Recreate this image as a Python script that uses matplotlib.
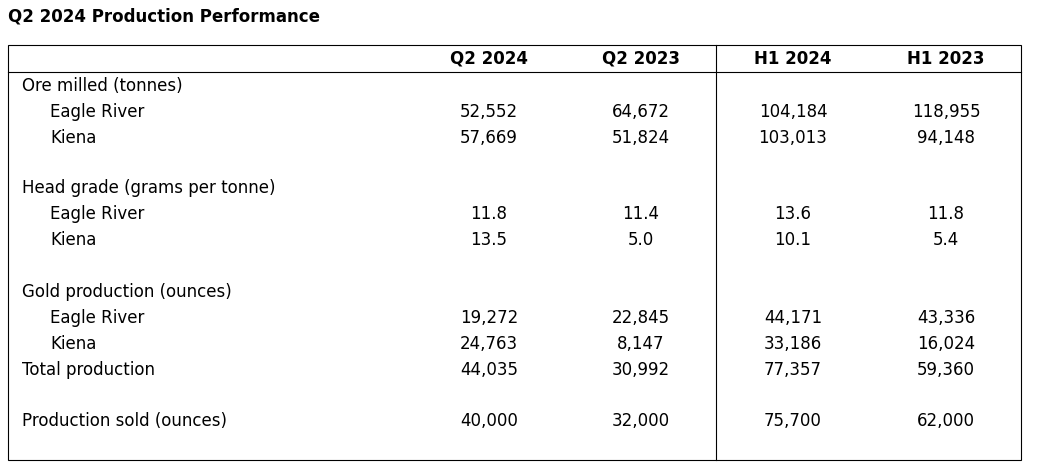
import matplotlib
matplotlib.use("Agg")
import matplotlib.pyplot as plt

title = "Q2 2024 Production Performance"
columns = ["Q2 2024", "Q2 2023", "H1 2024", "H1 2023"]
row_labels = ["Ore milled (tonnes)", "Eagle River", "Kiena",
              "Head grade (grams per tonne)", "Eagle River", "Kiena",
              "Gold production (ounces)", "Eagle River", "Kiena", "Total production",
              "Production sold (ounces)"]
row_indent = [0, 1, 1, 0, 1, 1, 0, 1, 1, 0, 0]
q2_2024 = ["", "52,552", "57,669", "", "11.8", "13.5", "", "19,272", "24,763", "44,035", "40,000"]
q2_2023 = ["", "64,672", "51,824", "", "11.4", "5.0", "", "22,845", "8,147", "30,992", "32,000"]
h1_2024 = ["", "104,184", "103,013", "", "13.6", "10.1", "", "44,171", "33,186", "77,357", "75,700"]
h1_2023 = ["", "118,955", "94,148", "", "11.8", "5.4", "", "43,336", "16,024", "59,360", "62,000"]

W, H = 1041, 475
fig = plt.figure(figsize=(W/100, H/100), dpi=100)
ax = fig.add_axes([0, 0, 1, 1])
ax.set_xlim(0, W); ax.set_ylim(H, 0); ax.axis("off")

fs = 12
ax.text(8, 16, title, fontsize=fs, fontweight="bold", va="center", ha="left")
ax.add_patch(plt.Rectangle((8, 45), 1013, 415, fill=False, lw=0.8, color="black"))
ax.plot([8, 1021], [72, 72], color="black", lw=0.8)
ax.plot([716, 716], [45, 460], color="black", lw=0.8)

col_x = [489, 641, 793, 946]
for x, c in zip(col_x, columns):
    ax.text(x, 59, c, fontsize=fs, fontweight="bold", ha="center", va="center")

row_y = [86, 112, 138, 188, 214, 240, 292, 318, 344, 370, 421]
for i, y in enumerate(row_y):
    ax.text(22 + 28 * row_indent[i], y, row_labels[i], fontsize=fs, ha="left", va="center")
    for x, vals in zip(col_x, [q2_2024, q2_2023, h1_2024, h1_2023]):
        ax.text(x, y, vals[i], fontsize=fs, ha="center", va="center")

fig.savefig("out.png", dpi=100)
